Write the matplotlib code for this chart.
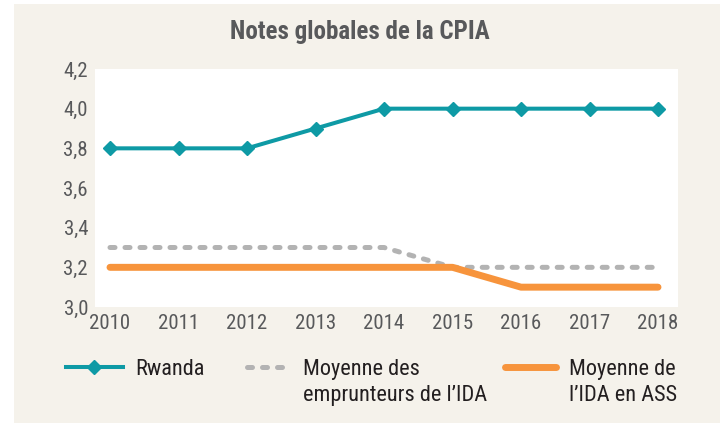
import matplotlib
matplotlib.use("Agg")
import matplotlib.pyplot as plt
from matplotlib.patches import Rectangle
from matplotlib.offsetbox import HPacker

# Data
years = [2010, 2011, 2012, 2013, 2014, 2015, 2016, 2017, 2018]
rwanda = [3.8, 3.8, 3.8, 3.9, 4.0, 4.0, 4.0, 4.0, 4.0]
ida_borrowers = [3.3, 3.3, 3.3, 3.3, 3.3, 3.2, 3.2, 3.2, 3.2]
ida_ssa = [3.2, 3.2, 3.2, 3.2, 3.2, 3.2, 3.1, 3.1, 3.1]
y_ticks = [3.0, 3.2, 3.4, 3.6, 3.8, 4.0, 4.2]
y_labels = ["3,0", "3,2", "3,4", "3,6", "3,8", "4,0", "4,2"]
labels = ["Rwanda", "Moyenne des\nemprunteurs de l\u2019IDA", "Moyenne de\nl\u2019IDA en ASS"]
title = "Notes globales de la CPIA"

teal = "#0e9aa5"
grey = "#b3b3b3"
orange = "#f7943c"
beige = "#f5f2eb"
text_grey = "#58595b"
text_dark = "#231f20"

plt.rcParams["font.family"] = ["Roboto Condensed", "DejaVu Sans"]

fig = plt.figure(figsize=(7.2, 4.23), dpi=100)
fig.patch.set_facecolor("white")
fig.patches.append(Rectangle((14 / 720, 0), 1 - 14 / 720, 1 - 4 / 423,
                             transform=fig.transFigure, facecolor=beige,
                             edgecolor="none", zorder=-10))

ax = fig.add_axes([95 / 720, (423 - 307) / 423, (678 - 95) / 720, (307 - 69) / 423])
ax.set_facecolor("white")

l1, = ax.plot(years, rwanda, color=teal, lw=2.9, marker="D", markersize=7.5,
              solid_joinstyle="miter", zorder=4)
l2, = ax.plot(years, ida_borrowers, color=grey, lw=3.6, dashes=(1.0, 2.0),
              dash_capstyle="round", zorder=2)
l3, = ax.plot(years, ida_ssa, color=orange, lw=5, solid_capstyle="round", zorder=3)

ax.set_xlim(2010 - 15 / 68.5, 2018 + 20 / 68.5)
ax.set_ylim(3.0, 4.2)
ax.set_xticks(years)
ax.set_xticklabels([str(y) for y in years])
ax.set_yticks(y_ticks)
ax.set_yticklabels(y_labels)
ax.tick_params(axis="both", length=0, labelsize=15, colors=text_grey)
ax.tick_params(axis="x", pad=5)
ax.tick_params(axis="y", pad=5)
for s in ax.spines.values():
    s.set_visible(False)

fig.text(360 / 720, 1 - 32 / 423, title, ha="center", va="center",
         fontsize=18, fontweight="bold", color=text_grey)

# Legend: three blocks, each with its own handle length
specs = [(l1, labels[0], 66, 2.56, 0.55),
         (l2, labels[1], 247, 1.85, 0.68),
         (l3, labels[2], 505, 2.3, 0.58)]
for handle, lab, x0, hl, pad in specs:
    leg = fig.legend([handle], [lab], loc="upper left",
                     bbox_to_anchor=(x0 / 720, 1 - 359 / 423),
                     frameon=False, fontsize=16, handlelength=hl,
                     handletextpad=pad, borderpad=0, borderaxespad=0,
                     labelspacing=0.2)
    for t in leg.get_texts():
        t.set_color(text_dark)
        t.set_linespacing(1.3)
    for p in leg.findobj(HPacker):
        p.align = "top"

fig.savefig("out.png", dpi=100)
